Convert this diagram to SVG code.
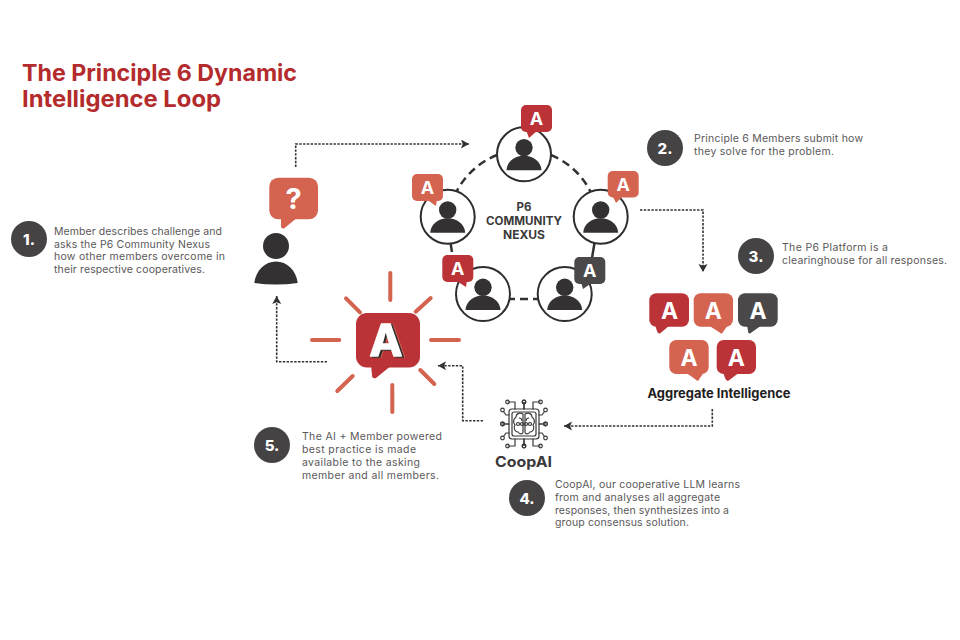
<svg xmlns="http://www.w3.org/2000/svg" xmlns:xlink="http://www.w3.org/1999/xlink" width="960" height="640" viewBox="0 0 960 640">
<style>
text{font-family:Inter,"Open Sans","Liberation Sans",sans-serif}
.title{font-size:23px;font-weight:700;fill:#b42b2d}
.body{font-size:10.5px;fill:#5a5859;font-weight:400}
.num{font-size:15px;font-weight:800;fill:#fff;text-anchor:middle}
.nx{font-size:11.5px;font-weight:700;fill:#3c3a3b;text-anchor:middle}
.ba{font-weight:700;fill:#fff;text-anchor:middle}
.s{font-size:18px}.m{font-size:23px}
.red{fill:#bb3337}.sal{fill:#d46350}.dk{fill:#4b4849}
.badge{fill:#454344}
.ring{fill:#fff;stroke:#2e2c2d;stroke-width:2}
.pf{fill:#333132}
.dash{fill:none;stroke:#333132;stroke-width:2.500;stroke-dasharray:8 5}
.stub{fill:none;stroke:#333132;stroke-width:2.500}
.flow{fill:none;stroke:#333132;stroke-width:1.600;stroke-dasharray:2.400 1.400;marker-end:url(#ah)}
.ray{stroke:#d46350;stroke-width:4;stroke-linecap:round}
.ic{fill:none;stroke:#3a3839;stroke-width:1.200}
.big{font-size:44px;font-weight:700;fill:#fff;stroke:#fff;stroke-width:1.500;stroke-linejoin:round;text-anchor:middle;filter:drop-shadow(2.500px 1px 0 #2f2d2e) drop-shadow(1.500px .5px 0 #d46350)}
</style>
<defs>
<marker id="ah" markerUnits="userSpaceOnUse" markerWidth="10" markerHeight="10" refX="8" refY="4.500" orient="auto"><path d="M0 0L8 4.500L0 9L1.800 4.500Z" fill="#333132"/></marker>
<g id="person"><circle cy="-6.700" r="8.700" class="pf"/><path class="pf" d="M-17.500 16C-17 7-9 1.500 0 1.500S17 7 17.500 16Z"/></g>
<g id="member"><circle r="27" class="ring"/><use xlink:href="#person" href="#person"/></g>
<g id="q"><path class="ic" d="M-9 -14.500V-22H-16.500M-14.500 -9H-18L-20.500 -12.500M-14.500 0H-21.500M0 -14.500V-22"/><circle cx="0" cy="-22" r="1.800" class="ic"/><circle cx="-16.500" cy="-22" r="1.800" class="ic"/><circle cx="-21.500" cy="-14" r="1.800" class="ic"/><circle cx="-21.500" cy="0" r="1.800" class="ic"/></g>
</defs>

<text class="title" x="22" y="81" textLength="275" lengthAdjust="spacingAndGlyphs">The Principle 6 Dynamic</text>
<text class="title" x="22" y="107" textLength="199" lengthAdjust="spacingAndGlyphs">Intelligence Loop</text>

<g id="connectors">
<path class="dash" d="M497 155A78 78 0 0 0 454 197"/>
<path class="dash" d="M551 155A78 78 0 0 1 593 197"/>
<path class="stub" d="M450 240L452 252"/>
<path class="stub" d="M595 240L592 258"/>
<path class="stub" d="M505 299H515M520 299H528M533 299H543"/>
<path class="flow" d="M295.700 167V144H469"/>
<path class="flow" d="M640 210H703V272"/>
<path class="flow" d="M712.300 409V426H564"/>
<path class="flow" d="M483 420.700H462.700V365.700H438"/>
<path class="flow" d="M327 361.700H276.700V296"/>
</g>

<g id="nexus-label">
<text class="nx" x="524" y="211">P6</text>
<text class="nx" x="524" y="225" textLength="76" lengthAdjust="spacingAndGlyphs">COMMUNITY</text>
<text class="nx" x="524" y="239" textLength="42" lengthAdjust="spacingAndGlyphs">NEXUS</text>
</g>

<g id="member-top"><use xlink:href="#member" href="#member" x="524" y="154.300"/>
<path class="red" d="M526 130H538L529 138Z"/><rect class="red" x="521" y="105" width="31" height="27" rx="5"/><text class="ba s" x="536.500" y="125">A</text></g>
<g id="member-right"><use xlink:href="#member" href="#member" x="600.700" y="216.700"/>
<path class="sal" d="M612 195H624L616 203Z"/><rect class="sal" x="607.700" y="171" width="31" height="26.500" rx="5"/><text class="ba s" x="623.200" y="190.500">A</text></g>
<g id="member-left"><use xlink:href="#member" href="#member" x="447.700" y="216.700"/>
<path class="sal" d="M426 199H437L436 206Z"/><rect class="sal" x="412" y="174" width="31" height="27" rx="5"/><text class="ba s" x="427.500" y="194">A</text></g>
<g id="member-bl"><use xlink:href="#member" href="#member" x="483" y="294"/>
<path class="red" d="M455 280H467L466 287Z"/><rect class="red" x="442.300" y="255" width="31" height="27" rx="5"/><text class="ba s" x="457.800" y="275">A</text></g>
<g id="member-br"><use xlink:href="#member" href="#member" x="564.700" y="294"/>
<path class="dk" d="M581 282H593L583 289Z"/><rect class="dk" x="574.300" y="257" width="31" height="27" rx="5"/><text class="ba s" x="589.800" y="277">A</text></g>

<g id="asker">
<path class="sal" d="M281 217H298L284 228.500Q281 229 281 226Z"/>
<rect class="sal" x="269.300" y="177.700" width="48.700" height="41.600" rx="9"/>
<text x="293.500" y="209" font-size="29" font-weight="700" fill="#fff" text-anchor="middle">?</text>
<circle cx="276" cy="246" r="13" class="pf"/>
<path class="pf" d="M254.300 283C256 270 265 261.500 276 261.500S296 270 297.700 283Q276 286 254.300 283Z"/>
</g>

<g id="ai-burst">
<path class="ray" d="M390.300 273V300M415.700 311.700L430.700 298M431 340H459M312 340H339.300M346 298.300L360 312.300M337.300 391L352.700 376M392.300 385V412M420.300 370L434.300 384"/>
<path class="red" d="M371 365H392L376 378Q372 379 372 375Z"/>
<rect class="red" x="356" y="313" width="64" height="54.500" rx="11"/>
<text class="big" x="386" y="355.500">A</text>
</g>

<g id="aggregate">
<path class="red" d="M655 325H670L660 333.500Q658 334 657 331Z"/><rect class="red" x="649.300" y="293.300" width="39.700" height="33.500" rx="7"/><text class="ba m" x="669.500" y="318.500">A</text>
<path class="sal" d="M708 325H728L722 333.500Q721 334 719 332Z"/><rect class="sal" x="693.700" y="293.300" width="39.300" height="33.500" rx="7"/><text class="ba m" x="713.300" y="318.500">A</text>
<path class="dk" d="M747 325H762L750 333.500Q748 334 748 331Z"/><rect class="dk" x="738" y="293.300" width="39.700" height="33.500" rx="7"/><text class="ba m" x="758" y="318.500">A</text>
<path class="sal" d="M685 372H704L698 381Q697 381 695 379Z"/><rect class="sal" x="669.300" y="340" width="39.400" height="34" rx="7"/><text class="ba m" x="689" y="365.500">A</text>
<path class="red" d="M723 372H740L728 381Q726 381 725 378Z"/><rect class="red" x="716.700" y="340" width="39.300" height="34" rx="7"/><text class="ba m" x="736.300" y="365.500">A</text>
<text x="647.500" y="397.500" font-size="13" font-weight="700" fill="#1f1d1e" textLength="143" lengthAdjust="spacingAndGlyphs">Aggregate Intelligence</text>
</g>

<g id="coopai">
<rect x="509" y="409" width="30" height="30" rx="3" class="ic" stroke-width="1.400"/>
<rect x="512" y="412" width="24" height="24" rx="2" class="ic"/>
<g transform="translate(524 424)"><use xlink:href="#q" href="#q"/><use xlink:href="#q" href="#q" transform="scale(-1 1)"/><use xlink:href="#q" href="#q" transform="scale(1 -1)"/><use xlink:href="#q" href="#q" transform="scale(-1 -1)"/></g>
<path class="ic" d="M523 414C519 412 516 414 516 417C513 419 513 423 515 425C513 428 515 432 518 432C520 435 523 434 523 432ZM525 414C529 412 532 414 532 417C535 419 535 423 533 425C535 428 533 432 530 432C528 435 525 434 525 432Z"/>
<path class="ic" d="M519 418C521 418 522 419 522 421M529 418C527 418 526 419 526 421"/>
<circle cx="518" cy="424" r="1.500" class="ic"/><circle cx="522" cy="424" r="1.500" class="ic"/><circle cx="526" cy="424" r="1.500" class="ic"/><circle cx="530" cy="424" r="1.500" class="ic"/>
<text x="523.500" y="466.500" font-size="14.500" font-weight="700" fill="#3a3839" text-anchor="middle" textLength="57" lengthAdjust="spacingAndGlyphs">CoopAI</text>
</g>

<g id="step-1"><circle class="badge" cx="29" cy="239" r="18"/><text class="num" x="29" y="244.500">1.</text>
<text class="body" x="54" y="235" textLength="168">Member describes challenge and</text>
<text class="body" x="54" y="247.500" textLength="156">asks the P6 Community Nexus</text>
<text class="body" x="54" y="260" textLength="171">how other members overcome in</text>
<text class="body" x="54" y="273" textLength="151">their respective cooperatives.</text></g>
<g id="step-2"><circle class="badge" cx="665" cy="148" r="18"/><text class="num" x="665" y="153.500">2.</text>
<text class="body" x="694" y="142" textLength="169">Principle 6 Members submit how</text>
<text class="body" x="694" y="155" textLength="140">they solve for the problem.</text></g>
<g id="step-3"><circle class="badge" cx="756" cy="256" r="18"/><text class="num" x="756" y="261.500">3.</text>
<text class="body" x="782" y="251" textLength="106">The P6 Platform is a</text>
<text class="body" x="782" y="264" textLength="165">clearinghouse for all responses.</text></g>
<g id="step-4"><circle class="badge" cx="527" cy="498" r="18"/><text class="num" x="527" y="503.500">4.</text>
<text class="body" x="555" y="488" textLength="185">CoopAI, our cooperative LLM learns</text>
<text class="body" x="555" y="500.500" textLength="165">from and analyses all aggregate</text>
<text class="body" x="555" y="513.500" textLength="174">responses, then synthesizes into a</text>
<text class="body" x="555" y="526" textLength="134">group consensus solution.</text></g>
<g id="step-5"><circle class="badge" cx="272" cy="445" r="18"/><text class="num" x="272" y="450.500">5.</text>
<text class="body" x="302" y="440" textLength="140">The AI + Member powered</text>
<text class="body" x="302" y="453" textLength="114">best practice is made</text>
<text class="body" x="302" y="466" textLength="118">available to the asking</text>
<text class="body" x="302" y="479" textLength="137">member and all members.</text></g>
</svg>
